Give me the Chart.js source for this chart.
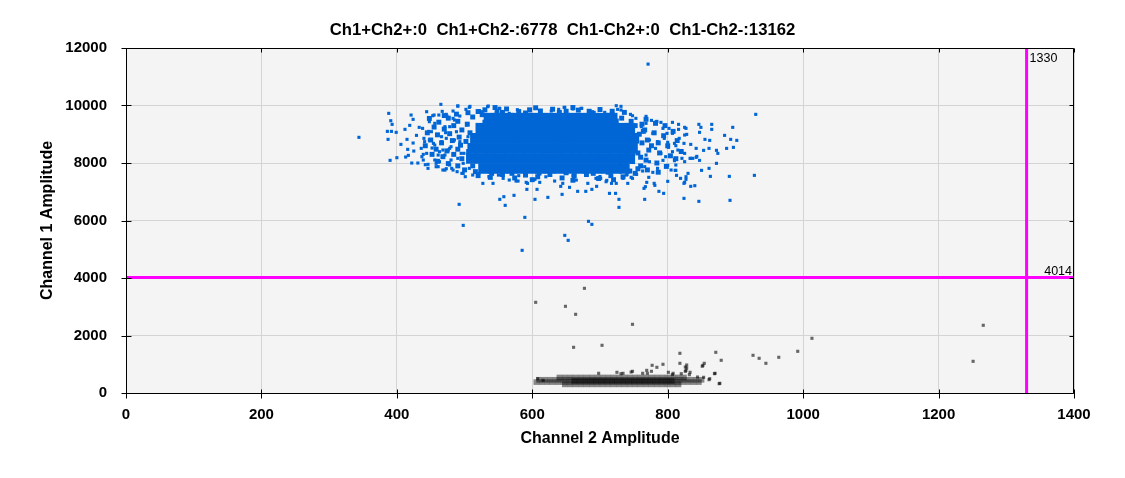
<!DOCTYPE html>
<html lang="en">
<head>
<meta charset="UTF-8">
<title>Channel 1 vs Channel 2 amplitude</title>
<script src="https://cdn.jsdelivr.net/npm/chart.js"></script>
<style>
  body { margin: 0; background: #fff; }
  #wrap { width: 1125px; height: 478px; position: relative; }
</style>
</head>
<body>
<div id="wrap"><canvas id="scatter"></canvas></div>
<script>
const titleText = 'Ch1+Ch2+:0  Ch1+Ch2-:6778  Ch1-Ch2+:0  Ch1-Ch2-:13162';
const xTicks = [0, 200, 400, 600, 800, 1000, 1200, 1400];
const yTicks = [0, 2000, 4000, 6000, 8000, 10000, 12000];
const thresholdCh2 = 1330;
const thresholdCh1 = 4014;

// solid middle of the Ch1+ cloud, read row by row (Ch1 level, Ch2 positions)
const posCoreY = [9560, 9210, 8860, 8510, 8160, 7810];
const posCoreX = [
  [536, 550, 564, 578, 592, 606, 620, 634, 648, 662, 676, 690, 704, 718],
  [524, 538, 552, 566, 580, 594, 608, 622, 636, 650, 664, 678, 692, 706, 720, 734, 744],
  [516, 530, 544, 558, 572, 586, 600, 614, 628, 642, 656, 670, 684, 698, 712, 726, 740, 750],
  [512, 526, 540, 554, 568, 582, 596, 610, 624, 638, 652, 666, 680, 694, 708, 722, 736, 748],
  [510, 524, 538, 552, 566, 580, 594, 608, 622, 636, 650, 664, 678, 692, 706, 720, 734, 744],
  [528, 542, 556, 570, 584, 598, 612, 626, 640, 654, 668, 682, 696, 710, 724, 736]
];

// half-filled rim around that middle [Ch2, Ch1]
const posRim = [
  [448,9550],[462,9420],[476,9560],[490,9450],[455,9250],[470,9180],[484,9300],[496,9150],[445,9050],[460,8980],
  [478,9020],[492,8900],[450,8800],[466,8700],[482,8780],[494,8620],[442,8600],[458,8480],[474,8420],[490,8480],
  [452,8300],[468,8220],[484,8300],[496,8150],[460,8060],[476,7980],[490,7900],[500,7760],[470,9650],[488,9700],
  [505,9750],
  [768,9520],[782,9380],[796,9300],[766,9150],[780,9050],[794,8950],[808,9100],[770,8800],[786,8700],[800,8600],
  [814,8780],[772,8450],[788,8350],[804,8250],[820,8400],[768,8100],[784,8000],[798,7880],[812,8150],[770,7760],
  [786,7680],[762,9350],[776,8600],[760,7900],
  [530,9850],[548,9800],[562,9880],[580,9790],[596,9850],[612,9810],[630,9870],[650,9800],[668,9840],[684,9800],
  [700,9860],[718,9800],[736,9760],[545,9930],[605,9920],[660,9930],[520,9790],
  [520,7560],[538,7500],[556,7600],[574,7480],[590,7580],[608,7520],[626,7600],[644,7480],[662,7560],[680,7600],
  [698,7460],[716,7560],[734,7520],[752,7640],[600,7420],[660,7400],[720,7420],
  [512,9600],[526,9680],[540,9520],[530,9420],[718,9680],[732,9560],[746,9450],[724,9460],[504,9350],[508,9050],
  [502,8750],[506,8400],[510,8100],[752,9300],[758,9000],[762,8700],[756,8350],[748,8050],[512,7900],[528,7750],
  [540,7640],[730,7850],[744,7720],[712,7680],[556,9760],[590,9740],[640,9760],[690,9730],[570,7640],[610,7650],
  [650,7660],[690,7640],[516,7700],[756,7800],[760,8200],[764,9100]
];

// single droplets around the Ch1+ cloud [Ch2, Ch1]
const posPoints = [
  [344,8892],[388,9727],[391,9471],[393,9344],[386,9100],[392,9100],[387,8822],[390,8092],[399,9066],[400,8185],
  [406,8648],[412,9170],[415,8822],[413,8208],[416,8474],[419,9309],[421,9669],[424,9518],[422,7999],[425,8416],
  [424,8695],[417,8266],[431,7999],[433,9240],[429,8961],[437,8220],[439,8300],[442,7941],[446,7814],[444,9784],
  [447,9100],[448,8799],[452,8521],[456,8104],[458,7988],[461,7872],[465,10040],[467,9796],[455,9669],[462,9669],
  [456,9379],[459,8973],[454,8683],[466,8741],[463,8393],[468,7756],[473,7802],[478,7930],[481,7814],[489,7698],
  [496,7640],[501,7524],[490,9982],[502,9866],[508,9970],[474,9634],[483,9553],[493,9634],[478,9263],[472,9054],
  [485,8799],[480,8567],[490,8162],[499,8336],[471,8278],[476,8451],
  [492,6562],[498,5831],[527,7292],[542,7292],[536,7524],[558,6828],[552,6736],[560,6527],[573,6875],[589,6109],
  [585,4962],[592,7083],[607,7083],[604,6736],[623,6805],[566,7408],[579,7373],[593,7292],[604,7431],[521,7640],
  [535,9982],[551,9900],[522,9819],
  [647,9935],[639,9866],[673,9900],[731,9970],[726,9866],[745,9692],[768,9622],[930,9692],[807,9413],[816,9344],
  [825,9240],[846,9344],[865,9344],[849,9240],[865,9170],[896,9240],[828,8996],[847,9066],[855,8822],[862,8787],
  [884,8961],[893,8822],[902,8787],[887,8509],[897,8544],[834,8648],[824,8683],[853,8440],[861,8509],[872,8440],
  [874,8335],[825,8335],[843,8231],[834,8162],[821,8162],[847,8092],[872,7988],[861,7814],[850,7744],[830,7640],
  [819,7466],[827,7431],[824,7292],[834,7188],[863,7535],[891,7535],[928,7570],[892,6701],[846,6666],[824,6770],
  [812,7744],[813,7570],[800,7362],[794,6944],[787,7014],[781,7222],[769,7327],[765,7118],[766,6736],[741,7292],
  [728,6736],[728,6457],[723,6944],[714,6944],[717,7292],[701,7466],[710,7396],[695,7188],[688,7083],[679,7014],
  [667,7014],[655,7153],[644,6909],[642,7188],[683,5971],[688,5866],[648,5483],[653,5310],[771,11440],
  [800,8718],[807,9031],[799,9031],[793,9205],[790,9413],[784,9448],[776,9483],[801,8544],[810,8127],[800,7918],
  [793,8092],[785,7814],[778,7675],[772,7501],[763,7721],[754,7605],[746,7501],[739,7582],[734,7466],[790,8335],
  [782,8509],[773,8799],[778,9031],[785,8741],[768,8278],[773,8046],[766,7872],[761,9263],[753,9553],[768,9379],
  [795,8857],[802,9205],[810,8683],[815,8451],[817,8857],[812,7930],[805,7756],[837,8162],
  [490,9981],[507,9935],[534,9958],[552,9900],[578,9854],[596,9819],[648,9935],[660,9877],[672,9900],[724,9993],
  [731,9842],[453,9645],[473,9692],[483,9808],[525,9784],[566,9726],[611,9761],[628,9808],[689,9784],[707,9761],
  [748,9645],[783,9437],[827,9205],[816,9170],[825,8973],[842,8509],[833,8161],[812,8602],[807,8393],[797,8220],
  [810,8081],[825,8046],[811,7744],[827,7524],[842,8196],[840,7211],[825,7327],[780,7292],[767,7176],[748,7466],
  [724,7292],[709,7350],[694,7466],[682,7292],[665,7408],[645,7292],[633,7373],[611,7327],[591,7327],[576,7373],
  [557,7466],[512,7582],[498,7640],[483,7755],[471,7755],[458,7871],[446,7953],[439,8104],[436,8509],[440,8857],
  [438,9205],[448,9437],[451,9089],[456,8625],[461,8277],[463,8046],[471,9263],[473,8857],[478,8509],[480,8104],
  [485,9495],[488,9089],[493,8741],[495,8335],[498,7988],[503,9321],[505,8915],[507,7814],[466,8915],[468,8451],
  [444,8335],[441,8741],[620,7520],[660,7560],[700,7530],[740,7600],[580,7560],[550,7580]
];

// Ch1- band near the bottom, overlapping rows (the last one is the dark middle)
const negBandY = [380, 460, 300, 540, 420];
const negBandX = [
  [606, 614, 622, 630, 638, 646, 654, 662, 670, 678, 686, 694, 702, 710, 718, 726, 734, 742, 750, 758, 766, 774, 782, 790, 798, 806, 814, 822, 830, 838, 846],
  [610, 618, 626, 634, 642, 650, 658, 666, 674, 682, 690, 698, 706, 714, 722, 730, 738, 746, 754, 762, 770, 778, 786, 794, 802, 810, 818, 826, 834, 842, 850],
  [648, 656, 664, 672, 680, 688, 696, 704, 712, 720, 728, 736, 744, 752, 760, 768, 776, 784, 792, 800, 808, 816],
  [640, 648, 656, 664, 672, 680, 688, 696, 704, 712, 720, 728, 736, 744, 752, 760, 768, 776, 784, 792, 800, 808, 816, 824],
  [662, 670, 678, 686, 694, 702, 710, 718, 726, 734, 742, 750, 758, 766, 774, 782, 790, 798, 806]
];

// single Ch1- droplets [Ch2, Ch1]
const negPoints = [
  [605,3154],[649,3015],[677,3641],[664,2737],[748,2389],[661,1589],[703,1659],[818,1381],[871,1415],[879,1137],
  [926,1311],[935,1207],[945,1033],[964,1242],[992,1450],[1013,1902],[854,1033],[851,929],[870,685],[877,337],
  [861,463],[818,1033],[828,974],[828,870],[833,720],[826,752],[777,963],[784,894],[793,998],[748,755],
  [725,720],[734,685],[698,685],[770,685],[776,755],[763,685],[801,720],[808,685],[853,546],[1266,2355],
  [1251,1102],[769,788],[731,672],[746,730],[826,904],[827,788],[820,672],[852,962],[844,556],[862,498],
  [869,672],[876,324],[832,637],[807,637],[608,498],[616,440]
];

const font = "'Liberation Sans', Arial, sans-serif";
Chart.defaults.color = '#000';
Chart.defaults.font.family = font;

function rows(ys, xs) {
  const out = [];
  ys.forEach((y, i) => xs[i].forEach(x => out.push({ x: x, y: y })));
  return out;
}
const pairs = list => list.map(p => ({ x: p[0], y: p[1] }));

const frame = {
  id: 'frame',
  beforeDraw(chart) {
    const { ctx, chartArea: a } = chart;
    ctx.save();
    ctx.fillStyle = '#f4f4f4';
    ctx.fillRect(a.left, a.top, a.right - a.left, a.bottom - a.top);
    ctx.restore();
  },
  afterDraw(chart) {
    const { ctx, chartArea: a, scales } = chart;
    const L = Math.round(a.left) + 0.5, R = Math.round(a.right) - 0.5;
    const T = Math.round(a.top) + 0.5, B = Math.round(a.bottom) + 0.5;
    ctx.save();
    ctx.strokeStyle = '#000';
    ctx.lineWidth = 1;
    ctx.beginPath();
    ctx.moveTo(L, T); ctx.lineTo(R, T); ctx.lineTo(R, B); ctx.lineTo(L, B); ctx.closePath();
    xTicks.forEach(v => {
      const px = Math.round(scales.x.getPixelForValue(v)) + 0.5;
      ctx.moveTo(px, B - 4); ctx.lineTo(px, B + 5);
      ctx.moveTo(px, T); ctx.lineTo(px, T + 4);
    });
    yTicks.forEach(v => {
      const py = Math.round(scales.y.getPixelForValue(v)) + 0.5;
      ctx.moveTo(L - 5, py); ctx.lineTo(L + 5, py);
      ctx.moveTo(R - 4, py); ctx.lineTo(R, py);
    });
    ctx.stroke();
    ctx.fillStyle = '#000';
    // title, centred on the whole canvas
    ctx.font = 'bold 16.7px ' + font;
    ctx.textAlign = 'center';
    ctx.textBaseline = 'middle';
    ctx.fillText(titleText, chart.width / 2, 30);
    // threshold values
    ctx.font = '12.5px ' + font;
    ctx.textBaseline = 'alphabetic';
    ctx.textAlign = 'left';
    ctx.fillText(String(thresholdCh2), scales.x.getPixelForValue(thresholdCh2) + 3, a.top + 14);
    ctx.textAlign = 'right';
    ctx.fillText(String(thresholdCh1), a.right - 2, scales.y.getPixelForValue(thresholdCh1) - 3);
    ctx.restore();
  }
};

const tickFont = { family: font, size: 15, weight: 'bold' };
const titleFont = { family: font, size: 16, weight: 'bold' };

new Chart(document.getElementById('scatter'), {
  type: 'scatter',
  data: {
    datasets: [
      {
        data: [{ x: thresholdCh2, y: 0 }, { x: thresholdCh2, y: 12000 }],
        showLine: true, borderColor: '#ff00ff', borderWidth: 3, pointRadius: 0
      },
      {
        data: [{ x: 0, y: thresholdCh1 }, { x: 1400, y: thresholdCh1 }],
        showLine: true, borderColor: '#ff00ff', borderWidth: 3, pointRadius: 0
      },
      {
        data: pairs(posPoints),
        pointStyle: 'rect', pointRadius: 2.2, pointBorderWidth: 0, backgroundColor: '#0066d6'
      },
      {
        data: pairs(posRim),
        pointStyle: 'rect', pointRadius: 3.5, pointBorderWidth: 0, backgroundColor: '#0066d6'
      },
      {
        data: rows(posCoreY, posCoreX),
        pointStyle: 'rect', pointRadius: 7.5, pointBorderWidth: 0, backgroundColor: '#0066d6'
      },
      {
        data: pairs(negPoints),
        pointStyle: 'rect', pointRadius: 2.2, pointBorderWidth: 0, backgroundColor: 'rgba(0,0,0,0.58)'
      },
      {
        data: rows(negBandY, negBandX),
        pointStyle: 'rect', pointRadius: 4, pointBorderWidth: 0, backgroundColor: 'rgba(0,0,0,0.45)'
      }
    ]
  },
  options: {
    responsive: true,
    maintainAspectRatio: false,
    animation: false,
    events: [],
    layout: { padding: { top: 48, right: 51, bottom: 0, left: 0 } },
    plugins: {
      legend: { display: false },
      tooltip: { enabled: false },
      title: { display: false }
    },
    scales: {
      x: {
        type: 'linear', min: 0, max: 1400,
        afterBuildTicks: s => { s.ticks = xTicks.map(v => ({ value: v })); },
        afterFit: s => { s.height = 85; },
        grid: { color: '#d4d4d4', drawTicks: false },
        border: { display: false },
        ticks: { padding: 13, color: '#000', font: tickFont, callback: v => String(v) },
        title: {
          display: true, text: 'Channel 2 Amplitude', color: '#000', font: titleFont,
          padding: { top: 0, bottom: 30 }
        }
      },
      y: {
        type: 'linear', min: 0, max: 12000,
        afterBuildTicks: s => { s.ticks = yTicks.map(v => ({ value: v })); },
        afterFit: s => { s.width = 126; },
        grid: { color: '#d4d4d4', drawTicks: false },
        border: { display: false },
        ticks: { padding: 19, color: '#000', font: tickFont, callback: v => String(v) },
        title: {
          display: true, text: 'Channel 1 Amplitude', color: '#000', font: titleFont,
          padding: { top: 38, bottom: 0 }
        }
      }
    }
  },
  plugins: [frame]
});
</script>
</body>
</html>
